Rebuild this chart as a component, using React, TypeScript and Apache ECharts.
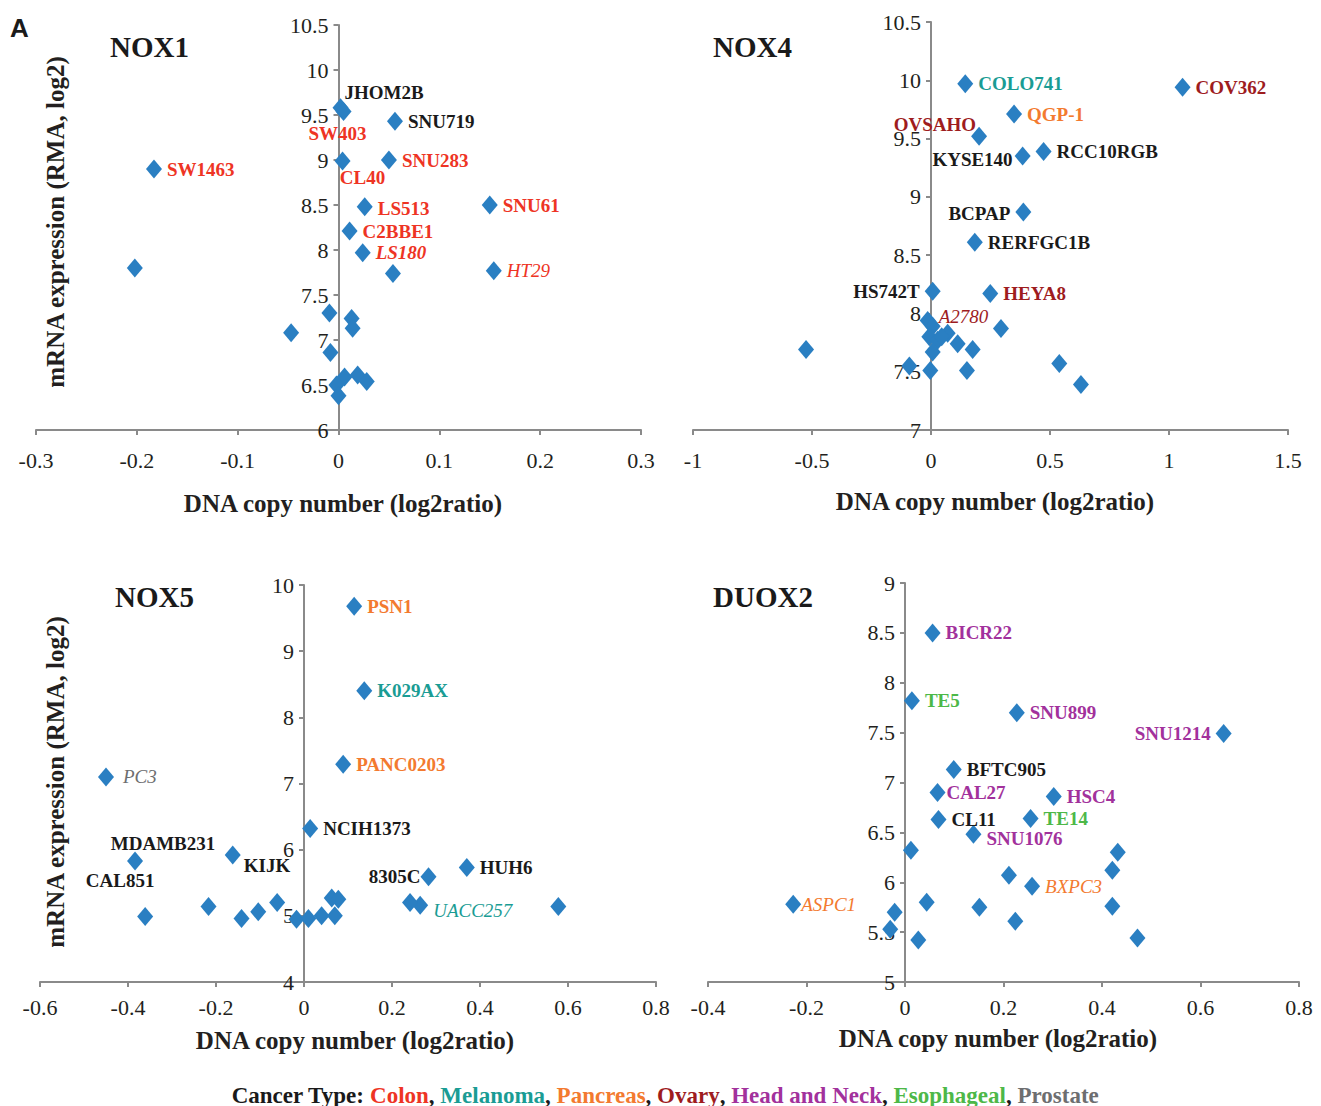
import React, { useEffect, useRef } from "react";
import * as echarts from "echarts";

// ---------- DATA ----------
const nox1Names = ["JHOM2B", "SW403", "SNU719", "CL40", "SNU283", "SW1463", "LS513", "SNU61", "C2BBE1", "LS180", "HT29", "", "", "", "", "", "", "", "", "", "", "", ""];
const nox1Types = ["Other", "Colon", "Other", "Colon", "Colon", "Colon", "Colon", "Colon", "Colon", "Colon", "Colon", "", "", "", "", "", "", "", "", "", "", "", ""];
const nox1X = [0.002, 0.005, 0.056, 0.004, 0.05, -0.183, 0.026, 0.15, 0.011, 0.024, 0.154, -0.202, 0.054, -0.009, 0.013, 0.014, -0.047, -0.008, 0.006, -0.002, 0.019, 0.028, 0.0];
const nox1Y = [9.58, 9.54, 9.43, 8.99, 9.0, 8.9, 8.48, 8.5, 8.21, 7.97, 7.77, 7.8, 7.74, 7.3, 7.24, 7.13, 7.08, 6.86, 6.59, 6.5, 6.61, 6.54, 6.38];

const nox4Names = ["COLO741", "COV362", "QGP-1", "OVSAHO", "KYSE140", "RCC10RGB", "BCPAP", "RERFGC1B", "HS742T", "HEYA8", "A2780", "", "", "", "", "", "", "", "", "", "", "", "", "", "", ""];
const nox4Types = ["Melanoma", "Ovary", "Pancreas", "Ovary", "Other", "Other", "Other", "Other", "Other", "Ovary", "Ovary", "", "", "", "", "", "", "", "", "", "", "", "", "", "", ""];
const nox4X = [0.144, 1.057, 0.349, 0.202, 0.385, 0.473, 0.388, 0.184, 0.007, 0.249, -0.014, 0.007, 0.294, -0.007, 0.028, 0.07, 0.045, 0.112, 0.175, 0.007, -0.525, -0.091, -0.003, 0.151, 0.539, 0.63];
const nox4Y = [9.97, 9.94, 9.71, 9.52, 9.35, 9.39, 8.87, 8.61, 8.19, 8.17, 7.94, 7.89, 7.87, 7.8, 7.77, 7.83, 7.8, 7.74, 7.69, 7.67, 7.69, 7.55, 7.51, 7.51, 7.57, 7.39];

const nox5Names = ["PSN1", "K029AX", "PANC0203", "PC3", "NCIH1373", "MDAMB231", "KIJK", "CAL851", "8305C", "HUH6", "UACC257", "", "", "", "", "", "", "", "", "", "", "", ""];
const nox5Types = ["Pancreas", "Melanoma", "Pancreas", "Prostate", "Other", "Other", "Other", "Other", "Other", "Other", "Melanoma", "", "", "", "", "", "", "", "", "", "", "", ""];
const nox5X = [0.114, 0.137, 0.089, -0.45, 0.014, -0.384, -0.162, -0.361, 0.283, 0.37, 0.264, 0.241, -0.217, -0.142, -0.104, -0.061, -0.017, 0.01, 0.04, 0.07, 0.063, 0.078, 0.578];
const nox5Y = [9.68, 8.4, 7.29, 7.1, 6.32, 5.83, 5.92, 4.99, 5.59, 5.73, 5.16, 5.2, 5.14, 4.96, 5.06, 5.2, 4.95, 4.96, 5.0, 5.0, 5.27, 5.25, 5.14];

const duox2Names = ["BICR22", "TE5", "SNU899", "SNU1214", "BFTC905", "CAL27", "HSC4", "CL11", "TE14", "SNU1076", "BXPC3", "ASPC1", "", "", "", "", "", "", "", "", "", "", "", ""];
const duox2Types = ["HeadNeck", "Esophageal", "HeadNeck", "HeadNeck", "Other", "HeadNeck", "HeadNeck", "Other", "Esophageal", "HeadNeck", "Pancreas", "Pancreas", "", "", "", "", "", "", "", "", "", "", "", ""];
const duox2X = [0.056, 0.014, 0.227, 0.647, 0.099, 0.066, 0.302, 0.068, 0.255, 0.139, 0.258, -0.227, 0.012, 0.432, 0.421, 0.211, 0.044, 0.151, 0.421, -0.021, 0.224, -0.03, 0.027, 0.472];
const duox2Y = [8.5, 7.82, 7.7, 7.49, 7.13, 6.9, 6.86, 6.63, 6.64, 6.48, 5.96, 5.78, 6.32, 6.3, 6.12, 6.07, 5.8, 5.75, 5.76, 5.7, 5.61, 5.53, 5.42, 5.44];

const panelTitles = ["NOX1", "NOX4", "NOX5", "DUOX2"];
const legendTypes = ["Colon", "Melanoma", "Pancreas", "Ovary", "Head and Neck", "Esophageal", "Prostate"];
const legendKeys = ["Colon", "Melanoma", "Pancreas", "Ovary", "HeadNeck", "Esophageal", "Prostate"];
const xAxisTitle = "DNA copy number (log2ratio)";
const yAxisTitle = "mRNA expression (RMA, log2)";

// ---------- STYLE ----------
const typeColors: Record<string, string> = {
  Colon: "#ee3424",
  Melanoma: "#1a9c94",
  Pancreas: "#f37a2f",
  Ovary: "#9e1c1e",
  HeadNeck: "#a2319c",
  Esophageal: "#4db848",
  Prostate: "#6d6e70",
  Other: "#1a1a1a",
};
const italicNames = new Set(["LS180", "HT29", "A2780", "PC3", "UACC257", "BXPC3", "ASPC1"]);
const boldItalicNames = new Set(["LS180"]);
const labelPlace: Record<string, [string, number, number]> = {
  JHOM2B: ["right", -9, -15],
  SW403: ["bottom", -6, -2],
  CL40: ["bottom", 20, -7],
  LS513: ["right", 0, 2],
  OVSAHO: ["left", 10, -12],
  KYSE140: ["left", 3, 3],
  BCPAP: ["left", 0, 1],
  HS742T: ["left", 0, 0],
  A2780: ["right", -2, -4],
  MDAMB231: ["top", 28, 7],
  CAL851: ["top", -25, -12],
  KIJK: ["right", -2, 11],
  "8305C": ["left", 5, 0],
  UACC257: ["right", 0, 5],
  PC3: ["right", 4, 0],
  SNU1214: ["left", 0, 0],
  SNU1076: ["right", 0, 4],
  CAL27: ["right", -4, 0],
  ASPC1: ["right", -5, 0],
};

const SERIF = "'Liberation Serif', 'Times New Roman', serif";
const MARKER = "#2a7fc2";
const AXIS = "#8a8a8a";

const grids = [
  { left: 36, top: 25, width: 605, height: 405 },
  { left: 693, top: 22, width: 595, height: 408 },
  { left: 40, top: 585, width: 616, height: 397 },
  { left: 708, top: 583, width: 591, height: 399 },
];
const xLabelMargins = [19, 19, 14, 14];
const xRanges = [
  [-0.3, 0.3, 0.1],
  [-1, 1.5, 0.5],
  [-0.6, 0.8, 0.2],
  [-0.4, 0.8, 0.2],
];
const yRanges = [
  [6, 10.5, 0.5],
  [7, 10.5, 0.5],
  [4, 10, 1],
  [5, 9, 0.5],
];

function buildData(names: string[], types: string[], xs: number[], ys: number[]) {
  return xs.map((x, i) => {
    const name = names[i];
    if (!name) return { value: [x, ys[i]], label: { show: false } };
    const place = labelPlace[name] || ["right", 0, 0];
    const italic = italicNames.has(name);
    return {
      value: [x, ys[i]],
      label: {
        show: true,
        formatter: name,
        position: place[0],
        offset: [place[1], place[2]],
        distance: 5,
        color: typeColors[types[i]] || "#1a1a1a",
        fontFamily: SERIF,
        fontSize: 19,
        fontStyle: italic ? "italic" : "normal",
        fontWeight: italic && !boldItalicNames.has(name) ? "normal" : "bold",
      },
    };
  });
}

export default function App() {
  const ref = useRef<HTMLDivElement>(null);
  useEffect(() => {
    document.body.style.margin = "0";
    document.body.style.overflow = "hidden";
    if (!ref.current) return;
    const chart = echarts.init(ref.current, undefined, { renderer: "svg" });
    const datasets = [
      buildData(nox1Names, nox1Types, nox1X, nox1Y),
      buildData(nox4Names, nox4Types, nox4X, nox4Y),
      buildData(nox5Names, nox5Types, nox5X, nox5Y),
      buildData(duox2Names, duox2Types, duox2X, duox2Y),
    ];
    const tickLabel = { fontFamily: SERIF, fontSize: 22, color: "#231f20" };
    const titlePos = [
      [110, 47],
      [713, 47],
      [115, 597],
      [713, 597],
    ];
    const xNamePos = [
      [343, 503],
      [995, 501],
      [355, 1040],
      [998, 1038],
    ];
    const rich: Record<string, any> = {
      b: { fontFamily: SERIF, fontSize: 23, fontWeight: "bold", fill: "#1a1a1a" },
    };
    let legendText = "{b|Cancer Type: }";
    legendKeys.forEach((k, i) => {
      rich[k] = { fontFamily: SERIF, fontSize: 23, fontWeight: "bold", fill: typeColors[k] };
      legendText += `{${k}|${legendTypes[i]}}` + (i < legendKeys.length - 1 ? "{b|, }" : "");
    });

    const graphic: any[] = [
      {
        type: "text",
        x: 10,
        y: 28,
        style: { text: "A", font: "bold 26px 'Liberation Sans', Arial, sans-serif", fill: "#1a1a1a", verticalAlign: "middle" },
      },
      ...panelTitles.map((t, i) => ({
        type: "text",
        x: titlePos[i][0],
        y: titlePos[i][1],
        style: { text: t, font: `bold 29px ${SERIF}`, fill: "#1a1a1a", verticalAlign: "middle" },
      })),
      ...xNamePos.map((p) => ({
        type: "text",
        x: p[0],
        y: p[1],
        style: { text: xAxisTitle, font: `bold 25px ${SERIF}`, fill: "#231f20", align: "center", verticalAlign: "middle" },
      })),
      ...[
        [55, 222],
        [55, 782],
      ].map((p) => ({
        type: "text",
        x: p[0],
        y: p[1],
        rotation: Math.PI / 2,
        style: { text: yAxisTitle, font: `bold 25px ${SERIF}`, fill: "#231f20", align: "center", verticalAlign: "middle" },
      })),
      {
        type: "text",
        x: 665,
        y: 1095,
        style: { text: legendText, rich, align: "center", verticalAlign: "middle" },
      },
    ];

    chart.setOption({
      animation: false,
      backgroundColor: "#ffffff",
      grid: grids.map((g) => ({ ...g, containLabel: false })),
      xAxis: grids.map((_, i) => ({
        type: "value",
        gridIndex: i,
        min: xRanges[i][0],
        max: xRanges[i][1],
        interval: xRanges[i][2],
        axisLine: { show: true, onZero: false, lineStyle: { color: AXIS, width: 2 } },
        axisTick: { show: true, length: 5, lineStyle: { color: AXIS, width: 2 } },
        axisLabel: { ...tickLabel, margin: xLabelMargins[i] },
        splitLine: { show: false },
      })),
      yAxis: grids.map((g, i) => ({
        type: "value",
        gridIndex: i,
        min: yRanges[i][0],
        max: yRanges[i][1],
        interval: yRanges[i][2],
        position: "left",
        // place the vertical axis where x = 0
        offset: -(g.width * (0 - xRanges[i][0])) / (xRanges[i][1] - xRanges[i][0]),
        axisLine: { show: true, onZero: false, lineStyle: { color: AXIS, width: 2 } },
        axisTick: { show: true, length: 5, lineStyle: { color: AXIS, width: 2 } },
        axisLabel: { ...tickLabel, margin: 10 },
        splitLine: { show: false },
      })),
      series: datasets.map((d, i) => ({
        type: "scatter",
        xAxisIndex: i,
        yAxisIndex: i,
        symbol: "diamond",
        symbolSize: [16, 19],
        itemStyle: { color: MARKER, opacity: 1 },
        emphasis: { disabled: true },
        data: d,
        z: 3,
      })),
      graphic,
    });
    return () => chart.dispose();
  }, []);
  return <div ref={ref} style={{ width: 1321, height: 1106 }} />;
}
